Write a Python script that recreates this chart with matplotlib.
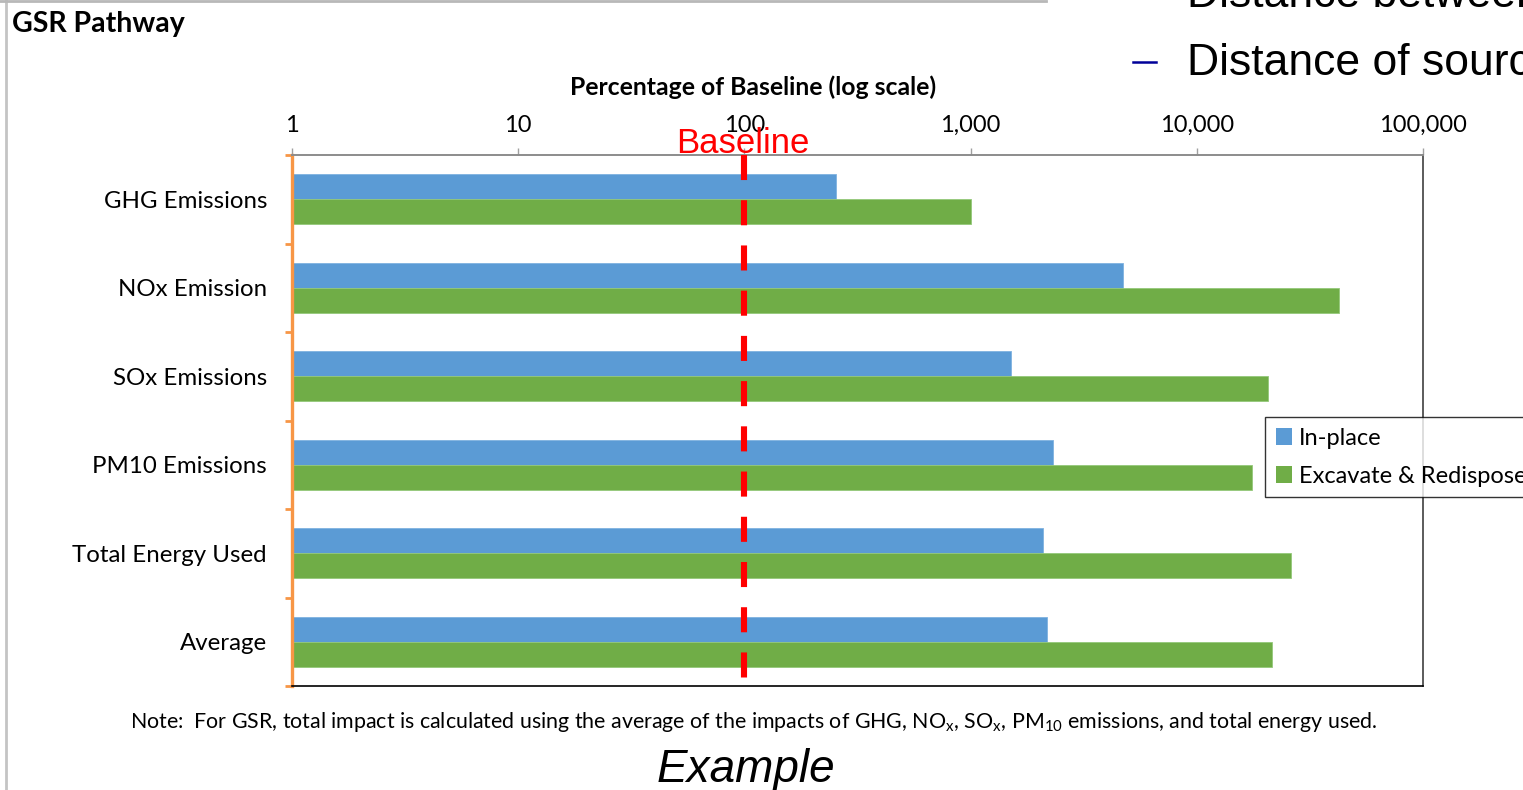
import matplotlib
matplotlib.use("Agg")
import matplotlib.pyplot as plt
from matplotlib.lines import Line2D
from matplotlib.patches import Patch
from matplotlib.ticker import FixedLocator, NullFormatter
import numpy as np

plt.rcParams['font.family'] = ['Lato', 'DejaVu Sans']
plt.rcParams['mathtext.fontset'] = 'custom'
plt.rcParams['mathtext.rm'] = 'Lato'

# ---- data -------------------------------------------------------------
categories = ["GHG Emissions", "NOx Emission", "SOx Emissions",
              "PM10 Emissions", "Total Energy Used", "Average"]
in_place = [254, 4720, 1510, 2310, 2090, 2180]
excavate = [1000, 42500, 20600, 17500, 26100, 21500]
series_names = ["In-place", "Excavate & Redispose"]
tick_values = [1, 10, 100, 1000, 10000, 100000]
tick_labels = ["1", "10", "100", "1,000", "10,000", "100,000"]
baseline_value = 100

BLUE = "#5B9BD5"
GREEN = "#70AD47"
ORANGE = "#F79646"
RED = "#FF0000"

W, H = 1523, 790
fig = plt.figure(figsize=(W / 100, H / 100), dpi=100)

def fx(px):
    return px / W

def fy(py):
    return 1 - py / H

ax = fig.add_axes([fx(292), fy(686), fx(1423) - fx(292), fy(155) - fy(686)])

y = np.arange(len(categories))
bar_h = 0.28
ax.barh(y - bar_h / 2, in_place, height=bar_h, color=BLUE,
        edgecolor="#7FB2E0", linewidth=0.6, left=1, zorder=2)
ax.barh(y + bar_h / 2, excavate, height=bar_h, color=GREEN,
        edgecolor="#94C87A", linewidth=0.6, left=1, zorder=2)

ax.set_xscale("log")
ax.set_xlim(1, 100000)
ax.set_ylim(len(categories) - 0.5, -0.5)

# top axis with decade ticks
ax.xaxis.set_ticks_position("top")
ax.xaxis.set_label_position("top")
ax.set_xticks(tick_values)
ax.set_xticklabels(tick_labels)
ax.xaxis.set_minor_locator(FixedLocator([]))
ax.tick_params(axis="x", which="major", direction="out", length=5,
               width=1, color="#A0A0A0", pad=9, labelsize=17,
               labelcolor="#000000")

# category axis: labels at centers, orange ticks at band boundaries
ax.set_yticks(y)
ax.set_yticklabels(categories)
ax.tick_params(axis="y", which="major", length=0, pad=18, labelsize=17.3)
ax.set_yticks(np.arange(-0.5, len(categories), 1.0), minor=True)
ax.yaxis.set_minor_formatter(NullFormatter())
ax.tick_params(axis="y", which="minor", direction="out", length=5,
               width=2, color=ORANGE)

ax.spines["left"].set_color(ORANGE)
ax.spines["left"].set_linewidth(2.4)
ax.spines["top"].set_color("#8C8C8C")
ax.spines["top"].set_linewidth(1.4)
ax.spines["right"].set_color("#404040")
ax.spines["right"].set_linewidth(1.2)
ax.spines["bottom"].set_color("#000000")
ax.spines["bottom"].set_linewidth(1.2)

# baseline marker
ax.plot([baseline_value, baseline_value], [-0.5, len(categories) - 0.5],
        color=RED, linewidth=4.4, dashes=(4.1, 3.3), zorder=3,
        solid_capstyle="butt", dash_capstyle="butt", clip_on=False)

# texts
fig.text(fx(743), fy(153), "Baseline", color=RED, fontsize=25,
         family=["Liberation Sans"], ha="center", va="baseline")
fig.text(fx(753), fy(87), "Percentage of Baseline (log scale)",
         fontsize=17.8, fontweight="bold", ha="center", va="center")
fig.text(fx(12), fy(24), "GSR Pathway", fontsize=20.5, fontweight="bold",
         ha="left", va="center")
fig.text(fx(754), fy(722),
         r"Note:  For GSR, total impact is calculated using the average of the "
         r"impacts of GHG, NO$_\mathregular{x}$, SO$_\mathregular{x}$, "
         r"PM$_\mathregular{10}$ emissions, and total energy used.",
         fontsize=15.4, ha="center", va="center")
fig.text(fx(746), fy(782), "Example", fontsize=33, style="italic",
         family=["Liberation Sans"], ha="center", va="baseline")

# slide bullet text at the top right
fig.text(fx(1187), fy(7), "Distance between", fontsize=32,
         family=["Liberation Sans"], ha="left", va="baseline")
fig.text(fx(1187), fy(75), "Distance of source", fontsize=32,
         family=["Liberation Sans"], ha="left", va="baseline")
fig.add_artist(Line2D([fx(1133), fx(1156)], [fy(62), fy(62)],
                      color="#000099", linewidth=1.8))

# page frame lines
fig.add_artist(Line2D([fx(6), fx(6)], [0, 1], color="#C4C4C4", linewidth=2))
fig.add_artist(Line2D([0, fx(1046)], [fy(1), fy(1)], color="#B8B8B8",
                      linewidth=2))

# legend
handles = [Patch(facecolor=BLUE, edgecolor="none"),
           Patch(facecolor=GREEN, edgecolor="none")]
leg = fig.legend(handles, series_names, loc="upper left",
                 bbox_to_anchor=(fx(1265), fy(417)), fontsize=17,
                 frameon=True, fancybox=False, shadow=False,
                 handlelength=0.7, handleheight=0.7, handletextpad=0.3,
                 labelspacing=0.72, borderpad=0.45, borderaxespad=0)
leg.get_frame().set_edgecolor("#000000")
leg.get_frame().set_linewidth(1.0)

fig.savefig("out.png", dpi=100)
